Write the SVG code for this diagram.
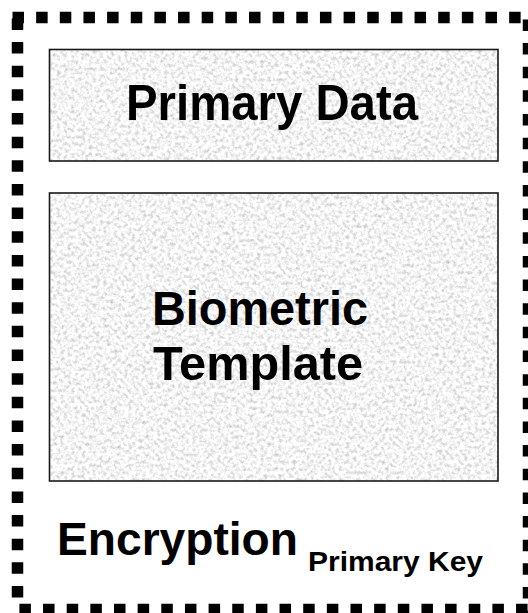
<svg xmlns="http://www.w3.org/2000/svg" width="528" height="613" viewBox="0 0 528 613">
  <style>
    .frame { fill: none; stroke: #000; stroke-width: 11.5; stroke-dasharray: 11.5 12.15; }
    .box { fill: none; stroke: #1a1a1a; stroke-width: 1.6; }
    .label { font-family: "Liberation Sans", Arial, sans-serif; font-weight: bold; fill: #000; }
  </style>
  <defs>
    <!-- granite-like light grey texture for the record fields -->
    <filter id="granite" x="0" y="0" width="1" height="1" filterUnits="objectBoundingBox" color-interpolation-filters="sRGB">
      <feTurbulence type="fractalNoise" baseFrequency="0.28" numOctaves="3" seed="7" result="noise"/>
      <feColorMatrix in="noise" type="matrix" values="0.48 0 0 0 0.72  0.48 0 0 0 0.72  0.48 0 0 0 0.72  0 0 0 0 1"/>
    </filter>
  </defs>

  <rect width="528" height="613" fill="#fff"/>

  <!-- dashed envelope of the encrypted record -->
  <g id="envelope">
    <line class="frame" x1="12.5" y1="17.5" x2="534" y2="17.5"/>
    <line class="frame" x1="17.5" y1="18.4" x2="17.5" y2="600"/>
    <line class="frame" x1="528.5" y1="19.4" x2="528.5" y2="613"/>
    <line class="frame" x1="19.4" y1="609.5" x2="534" y2="609.5"/>
  </g>

  <g id="primary-data">
    <rect x="49.5" y="49.5" width="448.5" height="111.5" fill="#ededed" filter="url(#granite)"/>
    <rect class="box" x="49.5" y="49.5" width="448.5" height="111.5"/>
    <text class="label" x="272" y="120" font-size="50" text-anchor="middle" textLength="292" lengthAdjust="spacingAndGlyphs">Primary Data</text>
  </g>

  <g id="biometric-template">
    <rect x="49.5" y="193" width="448.5" height="288" fill="#ededed" filter="url(#granite)"/>
    <rect class="box" x="49.5" y="193" width="448.5" height="288"/>
    <text class="label" x="260" y="325" font-size="49" text-anchor="middle" textLength="216" lengthAdjust="spacingAndGlyphs">Biometric</text>
    <text class="label" x="258" y="380" font-size="49" text-anchor="middle" textLength="210" lengthAdjust="spacingAndGlyphs">Template</text>
  </g>

  <g id="encryption">
    <text class="label" x="57" y="555" font-size="46" textLength="241" lengthAdjust="spacingAndGlyphs">Encryption</text>
    <text class="label" x="308" y="571" font-size="28" textLength="175" lengthAdjust="spacingAndGlyphs">Primary Key</text>
  </g>
</svg>
